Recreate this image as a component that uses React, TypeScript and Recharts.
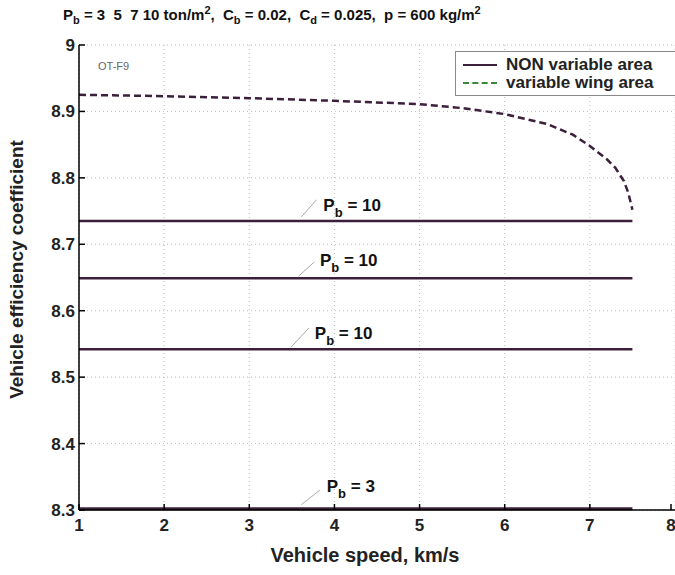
import React from 'react';
import {
  LineChart,
  Line,
  XAxis,
  YAxis,
  CartesianGrid,
  ReferenceLine,
  ReferenceDot,
} from 'recharts';

// variable wing area curve
const wingSpeed = [1, 2, 3, 4, 5, 5.5, 6, 6.5, 6.8, 7, 7.2, 7.3, 7.4, 7.45, 7.5];
const wingCoef = [8.925, 8.923, 8.92, 8.916, 8.911, 8.905, 8.896, 8.881, 8.865, 8.848, 8.828, 8.815, 8.795, 8.778, 8.752];

// NON variable area lines (flat)
const flatSpeed = [1, 7.5];
const flatA = [8.735, 8.735];
const flatB = [8.649, 8.649];
const flatC = [8.542, 8.542];
const flatD = [8.302, 8.302];

const xTicks = [1, 2, 3, 4, 5, 6, 7, 8];
const yTicks = [8.3, 8.4, 8.5, 8.6, 8.7, 8.8, 8.9, 9];

// annotation: leader start/end, text anchor, label
const notes = [
  { x1: 3.61, y1: 8.741, x2: 3.79, y2: 8.767, tx: 3.87, ty: 8.759, val: '10' },
  { x1: 3.58, y1: 8.652, x2: 3.76, y2: 8.673, tx: 3.83, ty: 8.676, val: '10' },
  { x1: 3.49, y1: 8.545, x2: 3.7, y2: 8.574, tx: 3.77, ty: 8.566, val: '10' },
  { x1: 3.61, y1: 8.308, x2: 3.83, y2: 8.33, tx: 3.91, ty: 8.336, val: '3' },
];

const toRows = (xs: number[], ys: number[]) => xs.map((v, i) => ({ v, c: ys[i] }));

const LINE = '#3b1f3b';
const FONT = 'Arial, "Liberation Sans", sans-serif';

const BottomTick = (props: any) => {
  const { x, y, payload } = props;
  return (
    <g>
      <line x1={x} y1={y - 4} x2={x} y2={y - 10} stroke="#000" strokeWidth={1.5} />
      <text x={x} y={y + 17} textAnchor="middle" fontSize={17} fontWeight="bold" fill="#222" fontFamily={FONT}>
        {payload.value}
      </text>
    </g>
  );
};

const TopTick = (props: any) => {
  const { x, y } = props;
  return <line x1={x} y1={y + 4} x2={x} y2={y + 10} stroke="#000" strokeWidth={1.5} />;
};

const LeftTick = (props: any) => {
  const { x, y, payload } = props;
  return (
    <g>
      <line x1={x + 4} y1={y} x2={x + 10} y2={y} stroke="#000" strokeWidth={1.5} />
      <text x={x} y={y} dy={6} textAnchor="end" fontSize={17} fontWeight="bold" fill="#222" fontFamily={FONT}>
        {payload.value}
      </text>
    </g>
  );
};

const RightTick = (props: any) => {
  const { x, y } = props;
  return <line x1={x - 4} y1={y} x2={x - 10} y2={y} stroke="#000" strokeWidth={1.5} />;
};

const noteLabel = (val: string) => (props: any) => {
  const { viewBox } = props;
  const cx = viewBox.x + viewBox.width / 2;
  const cy = viewBox.y + viewBox.height / 2;
  return (
    <text x={cx} y={cy + 6} fontSize={17} fontWeight="bold" fill="#111" fontFamily={FONT}>
      P<tspan dy={6} fontSize={13}>b</tspan>
      <tspan dy={-6}>{' = ' + val}</tspan>
    </text>
  );
};

export default function App() {
  return (
    <div style={{ position: 'absolute', left: 0, top: 0, width: 675, height: 575, background: '#fff', fontFamily: FONT, overflow: 'hidden' }}>
      <div style={{ position: 'absolute', left: 63, top: 4, fontSize: 15, fontWeight: 'bold', color: '#111', whiteSpace: 'nowrap' }}>
        P<sub style={{ fontSize: 11 }}>b</sub> = 3&nbsp; 5&nbsp; 7 10 ton/m<sup style={{ fontSize: 11 }}>2</sup>,&nbsp; C
        <sub style={{ fontSize: 11 }}>b</sub> = 0.02,&nbsp; C<sub style={{ fontSize: 11 }}>d</sub> = 0.025,&nbsp; p = 600 kg/m
        <sup style={{ fontSize: 11 }}>2</sup>
      </div>
      <LineChart width={675} height={575} margin={{ top: 45, right: 0, left: 19, bottom: 35 }}>
        <CartesianGrid stroke="#bbb" strokeDasharray="1 3" />
        <XAxis
          dataKey="v"
          type="number"
          domain={[1, 8]}
          ticks={xTicks}
          tickSize={0}
          tickMargin={4}
          tick={BottomTick}
          axisLine={{ stroke: '#000', strokeWidth: 1.5 }}
          height={30}
          allowDuplicatedCategory={false}
          label={{ value: 'Vehicle speed, km/s', position: 'bottom', offset: 8, dx: -12, style: { fontSize: 20, fontWeight: 'bold', fill: '#222', fontFamily: FONT } }}
        />
        <XAxis
          xAxisId="t"
          orientation="top"
          dataKey="v"
          type="number"
          domain={[1, 8]}
          ticks={xTicks}
          tickSize={0}
          tickMargin={4}
          tick={TopTick}
          axisLine={{ stroke: '#000', strokeWidth: 1.5 }}
          height={0}
        />
        <YAxis
          type="number"
          domain={[8.3, 9]}
          ticks={yTicks}
          tickSize={0}
          tickMargin={4}
          tick={LeftTick}
          axisLine={{ stroke: '#000', strokeWidth: 1.5 }}
          width={60}
          label={{ value: 'Vehicle efficiency coefficient', angle: -90, position: 'insideLeft', offset: -3, dy: -8, style: { textAnchor: 'middle', fontSize: 19, fontWeight: 'bold', fill: '#222', fontFamily: FONT } }}
        />
        <YAxis
          yAxisId="r"
          orientation="right"
          type="number"
          domain={[8.3, 9]}
          ticks={yTicks}
          tickSize={0}
          tickMargin={4}
          tick={RightTick}
          axisLine={{ stroke: '#000', strokeWidth: 1.5 }}
          width={0}
        />
        <Line data={toRows(flatSpeed, flatA)} dataKey="c" stroke={LINE} strokeWidth={2.5} dot={false} isAnimationActive={false} />
        <Line data={toRows(flatSpeed, flatB)} dataKey="c" stroke={LINE} strokeWidth={2.5} dot={false} isAnimationActive={false} />
        <Line data={toRows(flatSpeed, flatC)} dataKey="c" stroke={LINE} strokeWidth={2.5} dot={false} isAnimationActive={false} />
        <Line data={toRows(flatSpeed, flatD)} dataKey="c" stroke={LINE} strokeWidth={3} dot={false} isAnimationActive={false} />
        <Line
          data={toRows(wingSpeed, wingCoef)}
          dataKey="c"
          stroke={LINE}
          strokeWidth={2.5}
          strokeDasharray="7 4"
          dot={false}
          isAnimationActive={false}
        />
        {notes.map((n, i) => (
          <ReferenceLine
            key={'l' + i}
            segment={[
              { x: n.x1, y: n.y1 },
              { x: n.x2, y: n.y2 },
            ]}
            stroke="#aaa"
            strokeWidth={1}
          />
        ))}
        {notes.map((n, i) => (
          <ReferenceDot key={'d' + i} x={n.tx} y={n.ty} r={0} stroke="none" fill="none" label={noteLabel(n.val)} />
        ))}
      </LineChart>
      <div style={{ position: 'absolute', left: 98, top: 60, fontSize: 11, color: '#666' }}>OT-F9</div>
      <div
        style={{
          position: 'absolute',
          left: 455,
          top: 51,
          width: 230,
          height: 45,
          border: '1px solid #888',
          background: '#fff',
          boxSizing: 'border-box',
          fontSize: 17,
          fontWeight: 'bold',
          color: '#222',
          lineHeight: '17px',
        }}
      >
        <div style={{ position: 'absolute', left: 7, top: 4, display: 'flex', alignItems: 'center', whiteSpace: 'nowrap' }}>
          <span style={{ display: 'inline-block', width: 34, borderTop: '2px solid ' + LINE, marginRight: 9 }} />
          NON variable area
        </div>
        <div style={{ position: 'absolute', left: 7, top: 22, display: 'flex', alignItems: 'center', whiteSpace: 'nowrap' }}>
          <span style={{ display: 'inline-block', width: 34, borderTop: '2px dashed #3a8a3a', marginRight: 9 }} />
          variable wing area
        </div>
      </div>
    </div>
  );
}
